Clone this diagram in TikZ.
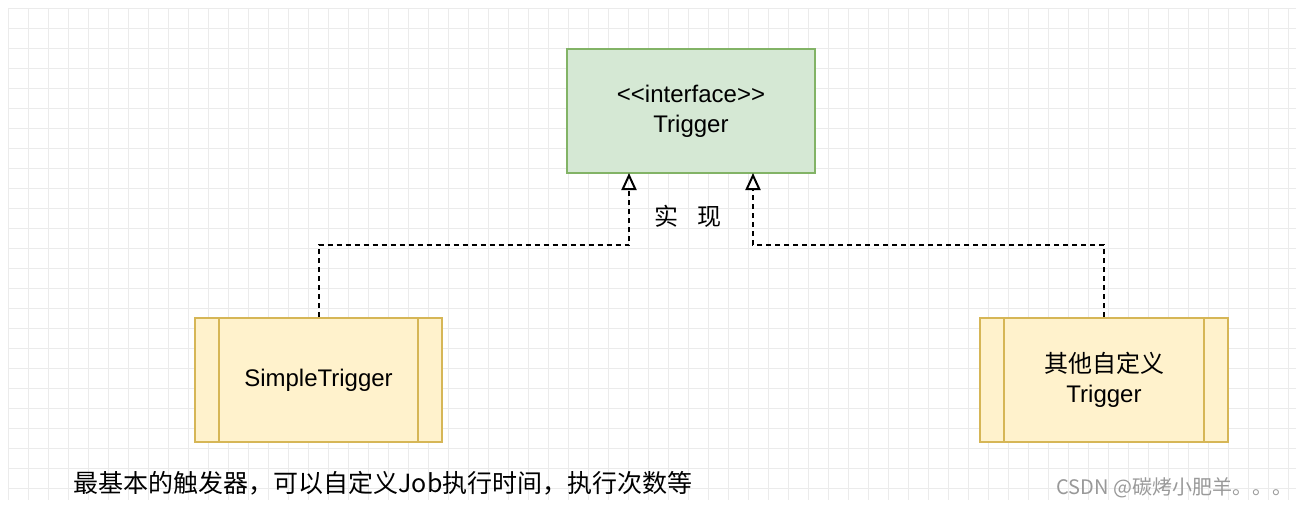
\documentclass[tikz,border=0pt]{standalone}
\usepackage{fontspec}
\setmainfont{Liberation Sans}
\newfontfamily\cjk{Noto Sans CJK SC}
\usetikzlibrary{arrows.meta}
\begin{document}
\begin{tikzpicture}[x=1pt,y=-1pt,
  iface/.style={draw={rgb,255:red,130;green,179;blue,102},fill={rgb,255:red,213;green,232;blue,212},line width=2pt},
  cls/.style={draw={rgb,255:red,214;green,182;blue,86},fill={rgb,255:red,255;green,242;blue,204},line width=2pt},
  impl/.style={line width=2pt,dash pattern=on 5pt off 4pt,-{Triangle[open,length=17pt,width=15pt]}},
  lbl/.style={font=\fontsize{24}{30}\selectfont,align=center}]
\useasboundingbox (0,0) rectangle (1304,506);
\fill[white] (0,0) rectangle (1304,506);
\foreach \x in {8,28,...,1296} \draw[black!8,line width=0.6pt] (\x,8) -- (\x,500);
\foreach \y in {8,28,...,500} \draw[black!8,line width=0.6pt] (8,\y) -- (1296,\y);
\node[iface,minimum width=248,minimum height=124,lbl] (I) at (691,111) {{<}{<}interface{>}{>}\\Trigger};
\node[cls,minimum width=247,minimum height=124,lbl] (S) at (318.5,380) {SimpleTrigger};
\draw[cls,fill=none] (219,318) -- (219,442) (418,318) -- (418,442);
\node[cls,minimum width=248,minimum height=124,lbl] (O) at (1104,380) {{\cjk 其他自定义}\\Trigger};
\draw[cls,fill=none] (1004,318) -- (1004,442) (1204,318) -- (1204,442);
\coordinate (a1) at (629,173);
\coordinate (a2) at (753,173);
\draw[impl] (S.north) |- (629,245) -- (a1);
\draw[impl] (O.north) |- (753,245) -- (a2);
\node[lbl] (L) at (688,216) {\cjk 实\hspace{20pt}现};
\node[anchor=west,font=\cjk\fontsize{25}{30}\selectfont] (B) at (70,483) {最基本的触发器，可以自定义Job执行时间，执行次数等};
\node[anchor=east,font=\cjk\fontsize{20}{22}\selectfont,text=black!40] (W) at (1296,488) {CSDN @碳烤小肥羊。。。};
\end{tikzpicture}
\end{document}
